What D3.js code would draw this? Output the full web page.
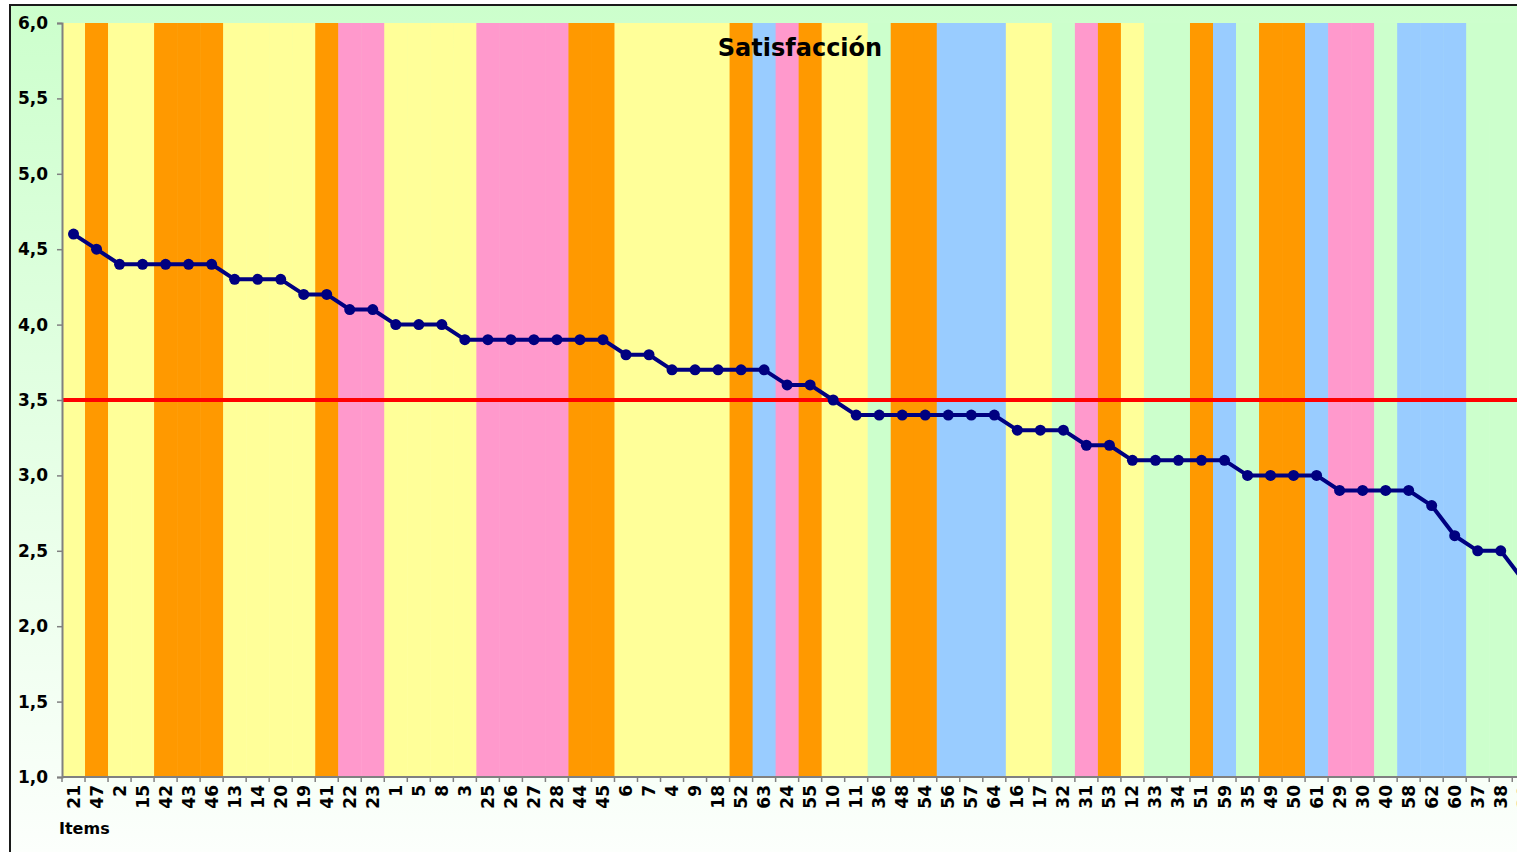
<!DOCTYPE html>
<html>
<head>
<meta charset="utf-8">
<script src="https://cdn.jsdelivr.net/npm/d3@7"></script>
<style>
  html, body { margin: 0; padding: 0; background: #ffffff; overflow: hidden; }
  svg { display: block; }
</style>
</head>
<body>
<svg id="chart" width="1517" height="852"></svg>
<script>
// Items in ranking order (by mean satisfaction)
const items = [21, 47, 2, 15, 42, 43, 46, 13, 14, 20, 19, 41, 22, 23, 1, 5, 8, 3,
  25, 26, 27, 28, 44, 45, 6, 7, 4, 9, 18, 52, 63, 24, 55, 10, 11, 36, 48, 54,
  56, 57, 64, 16, 17, 32, 31, 53, 12, 33, 34, 51, 59, 35, 49, 50, 61, 29, 30,
  40, 58, 62, 60, 37, 38, 39];

// Mean satisfaction per item
const satisfaction = [4.6, 4.5, 4.4, 4.4, 4.4, 4.4, 4.4, 4.3, 4.3, 4.3, 4.2, 4.2,
  4.1, 4.1, 4.0, 4.0, 4.0, 3.9, 3.9, 3.9, 3.9, 3.9, 3.9, 3.9, 3.8, 3.8, 3.7, 3.7,
  3.7, 3.7, 3.7, 3.6, 3.6, 3.5, 3.4, 3.4, 3.4, 3.4, 3.4, 3.4, 3.4, 3.3, 3.3, 3.3,
  3.2, 3.2, 3.1, 3.1, 3.1, 3.1, 3.1, 3.0, 3.0, 3.0, 3.0, 2.9, 2.9, 2.9, 2.9, 2.8,
  2.6, 2.5, 2.5, 2.3];

// Group (dimension) each item belongs to, used for the background bands
const groups = ["A", "B", "A", "A", "B", "B", "B", "A", "A", "A", "A", "B", "C", "C",
  "A", "A", "A", "A", "C", "C", "C", "C", "B", "B", "A", "A", "A", "A", "A", "B",
  "D", "C", "B", "A", "A", "E", "B", "B", "D", "D", "D", "A", "A", "E", "C", "B",
  "A", "E", "E", "B", "D", "E", "B", "B", "D", "C", "C", "E", "D", "D", "D", "E",
  "E", "E"];

const groupNames = ["A", "B", "C", "D", "E"];
const groupColors = ["#FFFF99", "#FF9900", "#FF99CC", "#99CCFF", "#CCFFCC"];

const threshold = 3.5;
const yTicks = [1.0, 1.5, 2.0, 2.5, 3.0, 3.5, 4.0, 4.5, 5.0, 5.5, 6.0];

const svg = d3.select("#chart");

const plot = { left: 62, top: 23, step: 23.02, bottom: 777 };
const plotRight = plot.left + items.length * plot.step;

// chart area background: green fading to white
const defs = svg.append("defs");
const grad = defs.append("linearGradient")
  .attr("id", "bgGrad").attr("x1", 0).attr("y1", 0).attr("x2", 0).attr("y2", 1);
grad.append("stop").attr("offset", "0%").attr("stop-color", "#CCFFCC");
grad.append("stop").attr("offset", "100%").attr("stop-color", "#FFFFFF");

svg.append("rect")
  .attr("x", 10).attr("y", 5)
  .attr("width", 1560).attr("height", 900)
  .attr("fill", "url(#bgGrad)")
  .attr("stroke", "#1a1a1a").attr("stroke-width", 2);

const x = d3.scaleBand()
  .domain(items.map(String))
  .range([plot.left, plotRight])
  .padding(0);

const y = d3.scaleLinear()
  .domain([1, 6])
  .range([plot.bottom, plot.top]);

const color = d3.scaleOrdinal().domain(groupNames).range(groupColors);

const data = items.map((it, i) => ({ item: String(it), value: satisfaction[i], group: groups[i] }));

// background bands
svg.append("g")
  .selectAll("rect")
  .data(data)
  .join("rect")
  .attr("x", d => x(d.item))
  .attr("y", y(6))
  .attr("width", x.bandwidth() + 0.5)
  .attr("height", y(1) - y(6))
  .attr("fill", d => color(d.group));

// threshold line
svg.append("line")
  .attr("x1", plot.left).attr("x2", plotRight)
  .attr("y1", y(threshold)).attr("y2", y(threshold))
  .attr("stroke", "#FF0000").attr("stroke-width", 4);

// y axis
const yAxis = svg.append("g")
  .attr("transform", `translate(${plot.left},0)`)
  .call(d3.axisLeft(y)
    .tickValues(yTicks)
    .tickSize(5)
    .tickPadding(9)
    .tickFormat(d => d3.format(".1f")(d).replace(".", ",")));
yAxis.select(".domain").attr("stroke", "#808080").attr("stroke-width", 2);
yAxis.selectAll(".tick line").attr("stroke", "#808080").attr("stroke-width", 1.5);
yAxis.selectAll(".tick text")
  .attr("fill", "#000")
  .style("font-family", "'DejaVu Sans', sans-serif")
  .style("font-weight", "bold")
  .style("font-size", "17px");

// x axis: ticks between categories, labels at centers
const xAxisG = svg.append("g").attr("transform", `translate(0,${plot.bottom})`);
xAxisG.append("line")
  .attr("x1", plot.left).attr("x2", plotRight)
  .attr("stroke", "#808080").attr("stroke-width", 2);
const boundaries = items.map(it => x(String(it))).concat([plotRight]);
xAxisG.selectAll(".bt")
  .data(boundaries)
  .join("line")
  .attr("class", "bt")
  .attr("x1", d => d).attr("x2", d => d)
  .attr("y1", 0).attr("y2", 5)
  .attr("stroke", "#808080").attr("stroke-width", 1.5);
xAxisG.selectAll(".xl")
  .data(data)
  .join("text")
  .attr("class", "xl")
  .attr("transform", d => `translate(${x(d.item) + x.bandwidth() / 2 + 6},8) rotate(-90)`)
  .attr("text-anchor", "end")
  .style("font-family", "'DejaVu Sans', sans-serif")
  .style("font-weight", "bold")
  .style("font-size", "17px")
  .attr("fill", "#000")
  .text(d => d.item);

// satisfaction line with markers
const line = d3.line()
  .x(d => x(d.item) + x.bandwidth() / 2)
  .y(d => y(d.value));

svg.append("path")
  .datum(data)
  .attr("d", line)
  .attr("fill", "none")
  .attr("stroke", "#000080")
  .attr("stroke-width", 4)
  .attr("stroke-linejoin", "round");

svg.append("g")
  .selectAll("circle")
  .data(data)
  .join("circle")
  .attr("cx", d => x(d.item) + x.bandwidth() / 2)
  .attr("cy", d => y(d.value))
  .attr("r", 5.5)
  .attr("fill", "#000080");

// title
svg.append("text")
  .attr("x", 800).attr("y", 56)
  .attr("text-anchor", "middle")
  .style("font-family", "'DejaVu Sans', sans-serif")
  .style("font-weight", "900")
  .style("font-size", "24px")
  .attr("fill", "#000")
  .text("Satisfacción");

// axis title
svg.append("text")
  .attr("x", 59).attr("y", 834)
  .style("font-family", "'DejaVu Sans', sans-serif")
  .style("font-weight", "900")
  .style("font-size", "16px")
  .attr("fill", "#000")
  .text("Items");
</script>
</body>
</html>
